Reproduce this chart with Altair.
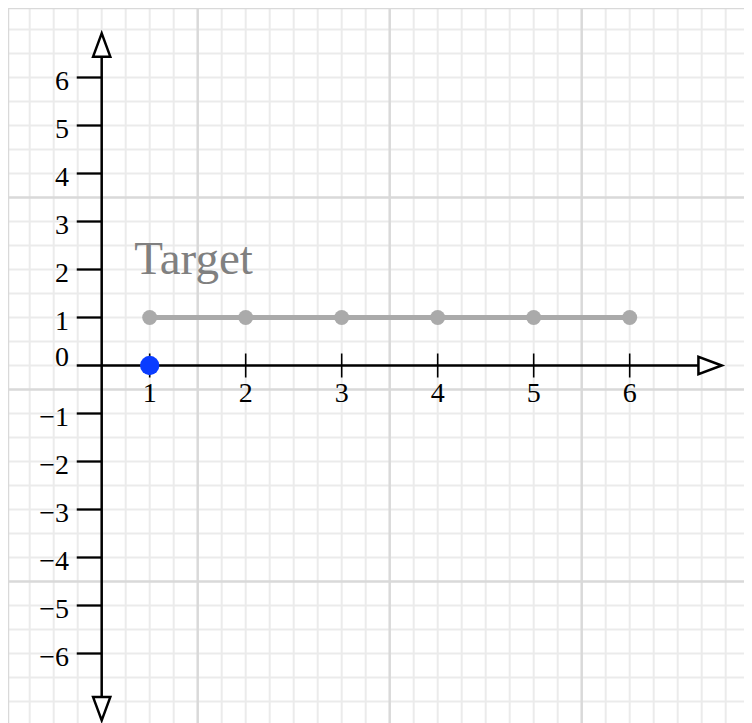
import altair as alt
import numpy as np
import pandas as pd

# ---- data ----
target_x = [1, 2, 3, 4, 5, 6]
target_y = [1, 1, 1, 1, 1, 1]
current_x = [1]
current_y = [0]
x_tick_values = [1, 2, 3, 4, 5, 6]
x_tick_labels = ["1", "2", "3", "4", "5", "6"]
y_tick_values = [6, 5, 4, 3, 2, 1, -1, -2, -3, -4, -5, -6]
y_tick_labels = ["6", "5", "4", "3", "2", "1", "−1", "−2", "−3", "−4", "−5", "−6"]
zero_label = ["0"]
annotation_text = ["Target"]

# ---- layout constants ----
W, H = 736, 715
PX_X, PX_Y = 96.0, 48.0
X0 = -0.476
Y1 = 7.448
X_DOMAIN = [X0, X0 + W / PX_X]
Y_DOMAIN = [Y1 - H / PX_Y, Y1]
AXIS_X = 0.5          # where the vertical axis sits
TICK_LEFT = 0.24      # left end of y ticks / x axis
Y_AXIS_TOP, Y_AXIS_BOTTOM = 6.427, -6.927
X_AXIS_RIGHT = 6.711
XTICK_HALF = 0.25
LABEL_X = 0.16
SERIF = "Liberation Serif"

xs = alt.Scale(domain=X_DOMAIN, nice=False, zero=False)
ys = alt.Scale(domain=Y_DOMAIN, nice=False, zero=False)

# grid positions (styling)
gx = np.arange(-0.5, X_DOMAIN[1] + 0.01, 0.25)
gy = np.arange(-7.5, 7.6, 0.5)
gx_major = [v for v in gx if abs(((v + 0.5) % 2.0)) < 1e-9]
gy_major = [v for v in gy if abs(((v - 3.5) % 4.0)) < 1e-9]
gx_minor = [v for v in gx if v not in gx_major]
gy_minor = [v for v in gy if v not in gy_major]

FINE = "#ebebeb"
MAJOR = "#d9d9d9"

vgrid_minor = alt.Chart(pd.DataFrame({"v": gx_minor})).mark_rule(color=FINE, strokeWidth=2).encode(
    x=alt.X("v:Q", scale=xs, axis=None))
hgrid_minor = alt.Chart(pd.DataFrame({"v": gy_minor})).mark_rule(color=FINE, strokeWidth=2).encode(
    y=alt.Y("v:Q", scale=ys, axis=None))
vgrid_major = alt.Chart(pd.DataFrame({"v": gx_major + [X_DOMAIN[0]]})).mark_rule(color=MAJOR, strokeWidth=2.5).encode(
    x=alt.X("v:Q", scale=xs, axis=None))
hgrid_major = alt.Chart(pd.DataFrame({"v": gy_major + [Y_DOMAIN[1]]})).mark_rule(color=MAJOR, strokeWidth=2.5).encode(
    y=alt.Y("v:Q", scale=ys, axis=None))

target_df = pd.DataFrame({"x": target_x, "y": target_y})
target_line = alt.Chart(target_df).mark_line(color="#aaaaaa", strokeWidth=5).encode(
    x=alt.X("x:Q", scale=xs, axis=None), y=alt.Y("y:Q", scale=ys, axis=None))
target_pts = alt.Chart(target_df).mark_circle(color="#aaaaaa", size=225, opacity=1).encode(
    x=alt.X("x:Q", scale=xs, axis=None), y=alt.Y("y:Q", scale=ys, axis=None))

# axis lines
xaxis_df = pd.DataFrame({"x0": [TICK_LEFT], "x1": [X_AXIS_RIGHT], "y": [0.0]})
xaxis = alt.Chart(xaxis_df).mark_rule(color="black", strokeWidth=2.5).encode(
    x=alt.X("x0:Q", scale=xs, axis=None), x2="x1:Q", y=alt.Y("y:Q", scale=ys, axis=None))
yaxis_df = pd.DataFrame({"x": [AXIS_X], "y0": [Y_AXIS_BOTTOM], "y1": [Y_AXIS_TOP]})
yaxis = alt.Chart(yaxis_df).mark_rule(color="black", strokeWidth=2.5).encode(
    x=alt.X("x:Q", scale=xs, axis=None), y=alt.Y("y0:Q", scale=ys, axis=None), y2="y1:Q")

# ticks
ytick_df = pd.DataFrame({"y": y_tick_values, "label": y_tick_labels})
ytick_df["x0"] = TICK_LEFT
ytick_df["x1"] = AXIS_X
yticks = alt.Chart(ytick_df).mark_rule(color="black", strokeWidth=2.3).encode(
    x=alt.X("x0:Q", scale=xs, axis=None), x2="x1:Q", y=alt.Y("y:Q", scale=ys, axis=None))
xtick_df = pd.DataFrame({"x": x_tick_values, "label": x_tick_labels})
xtick_df["y0"] = -XTICK_HALF
xtick_df["y1"] = XTICK_HALF
xtick_df["y"] = 0.0
xticks = alt.Chart(xtick_df).mark_rule(color="black", strokeWidth=1.6).encode(
    x=alt.X("x:Q", scale=xs, axis=None), y=alt.Y("y0:Q", scale=ys, axis=None), y2="y1:Q")

# arrowheads
ARROW = "M0,-1L-0.74,1L0.74,1Z"
arrow_df = pd.DataFrame({"x": [AXIS_X, 6.837, AXIS_X], "y": [6.677, 0.0, -7.15], "a": [0, 90, 180]})
arrows = alt.Chart(arrow_df).mark_point(shape=ARROW, size=540, filled=True, fill="white",
                                        stroke="black", strokeWidth=2.5, opacity=1).encode(
    x=alt.X("x:Q", scale=xs, axis=None), y=alt.Y("y:Q", scale=ys, axis=None),
    angle=alt.Angle("a:Q", scale=None))

# labels
ytick_df["lx"] = LABEL_X
ylabels = alt.Chart(ytick_df).mark_text(font=SERIF, fontSize=28, align="right", baseline="alphabetic",
                                        dy=12, color="black").encode(
    x=alt.X("lx:Q", scale=xs, axis=None), y=alt.Y("y:Q", scale=ys, axis=None), text="label:N")
zero_df = pd.DataFrame({"label": zero_label, "lx": [LABEL_X], "y": [0.0]})
zlabel = alt.Chart(zero_df).mark_text(font=SERIF, fontSize=28, align="right", baseline="alphabetic",
                                      dy=0, color="black").encode(
    x=alt.X("lx:Q", scale=xs, axis=None), y=alt.Y("y:Q", scale=ys, axis=None), text="label:N")
xlabels = alt.Chart(xtick_df).mark_text(font=SERIF, fontSize=28, align="center", baseline="alphabetic",
                                        dy=36, color="black").encode(
    x=alt.X("x:Q", scale=xs, axis=None), y=alt.Y("y:Q", scale=ys, axis=None), text="label:N")

current = alt.Chart(pd.DataFrame({"x": current_x, "y": current_y})).mark_circle(
    color="#0a3cff", size=372, opacity=1).encode(
    x=alt.X("x:Q", scale=xs, axis=None), y=alt.Y("y:Q", scale=ys, axis=None))

ann_df = pd.DataFrame({"label": annotation_text, "x": [0.84], "y": [1.9]})
ann = alt.Chart(ann_df).mark_text(font=SERIF, fontSize=47, align="left", baseline="alphabetic",
                                  color="#808080").encode(
    x=alt.X("x:Q", scale=xs, axis=None), y=alt.Y("y:Q", scale=ys, axis=None), text="label:N")

chart = alt.layer(
    vgrid_minor, hgrid_minor, vgrid_major, hgrid_major,
    target_line, target_pts,
    xaxis, yaxis, yticks, xticks, arrows,
    ylabels, zlabel, xlabels, ann, current,
).properties(
    width=W, height=H, padding=0, autosize=alt.AutoSizeParams(type="none"), background="white"
).configure_view(stroke=None)

chart.save("out.html", embed_options={"renderer": "svg", "actions": False})
